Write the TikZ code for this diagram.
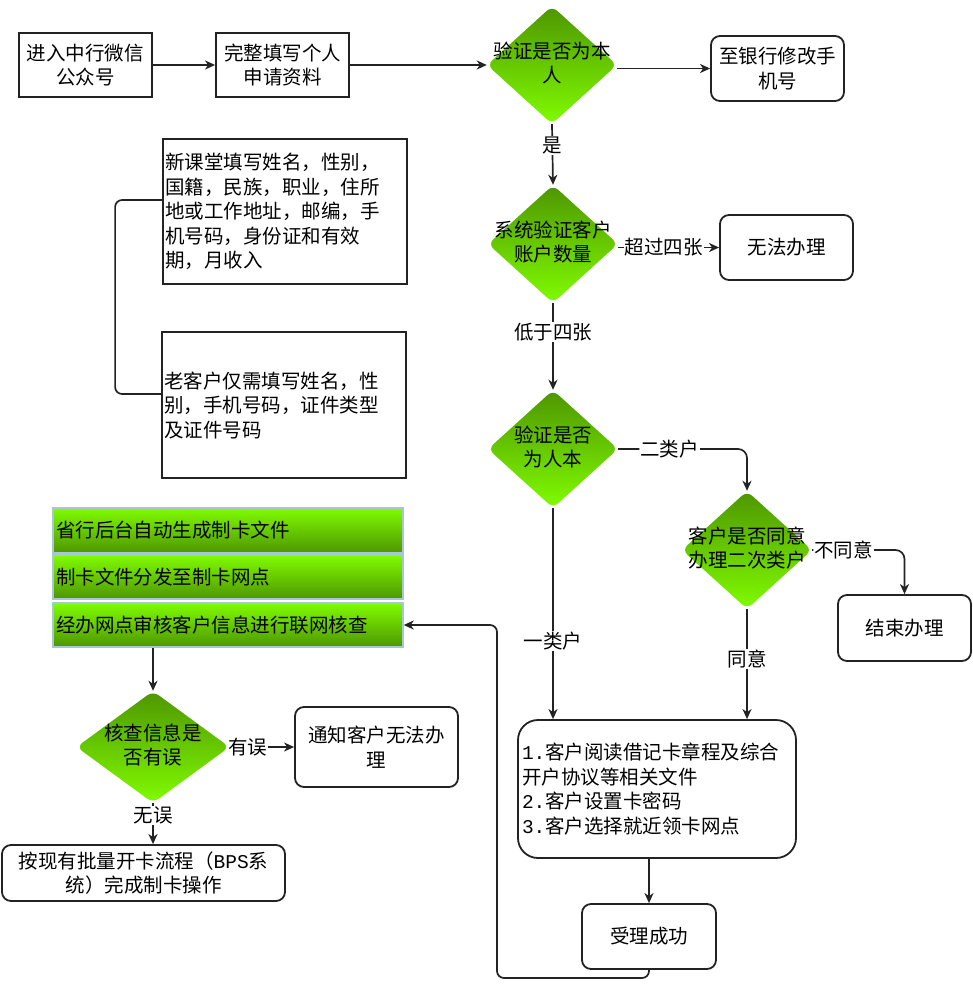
\documentclass[tikz,border=0pt]{standalone}
\usepackage{fontspec}
\setmainfont{Noto Sans CJK SC}
\newfontfamily\monof{Liberation Mono}
\usetikzlibrary{shapes.geometric,arrows.meta}
\definecolor{dg}{RGB}{78,150,0}
\definecolor{lg}{RGB}{128,252,0}
\definecolor{edge}{RGB}{35,35,35}
\definecolor{rowedge}{RGB}{165,200,212}
\begin{document}
\begin{tikzpicture}[x=1pt,y=-1pt,
 every node/.style={font=\fontsize{19.5}{24.5}\selectfont,align=center},
 sq/.style={draw=edge,line width=1.8pt,fill=white,align=center,inner sep=2pt},
 rb/.style={sq,rounded corners=9pt},
 dia/.style={diamond,inner sep=0pt,rounded corners=7pt,top color=dg,bottom color=lg,draw=none},
 row/.style={draw=rowedge,line width=1.4pt,top color=lg,bottom color=dg,minimum width=350pt,text width=344pt,inner xsep=3pt,align=left},
 arr/.style={draw=edge,line width=1.7pt,-{Stealth[length=10pt,width=9pt,inset=3pt]}},
 ln/.style={draw=edge,line width=1.7pt},
 lbl/.style={fill=white,inner sep=1pt}]
\useasboundingbox (0,0) rectangle (972,988);

% top row
\node[sq,minimum width=133pt,minimum height=64pt] (b1) at (85.5,65) {进入中行微信\\公众号};
\node[sq,minimum width=133pt,minimum height=64pt] (b2) at (282.5,65) {完整填写个人\\申请资料};
\node[dia,minimum width=130pt,minimum height=118pt] (d1) at (552,65) {};
\node (t1) at (552,63) {验证是否为本\\人};
\node[rb,minimum width=133pt,minimum height=65pt] (b3) at (777.5,68.5) {至银行修改手\\机号};

% left info boxes
\node[sq,minimum width=244pt,minimum height=145pt,text width=240pt,align=left] (n1) at (285,211.5) {新课堂填写姓名，性别，\\国籍，民族，职业，住所\\地或工作地址，邮编，手\\机号码，身份证和有效\\期，月收入};
\node[sq,minimum width=244pt,minimum height=146pt,text width=240pt,align=left] (n2) at (284,405) {老客户仅需填写姓名，性\\别，手机号码，证件类型\\及证件号码};

% right column
\node[dia,minimum width=130pt,minimum height=118pt] (d2) at (553,244) {};
\node (t2) at (553,242) {系统验证客户\\账户数量};
\node[rb,minimum width=133pt,minimum height=65pt] (b4) at (786.5,247.5) {无法办理};
\node[dia,minimum width=130pt,minimum height=118pt] (d3) at (553,449) {};
\node (t3) at (553,447) {验证是否\\为人本};
\node[dia,minimum width=130pt,minimum height=118pt] (d4) at (747,550) {};
\node (t4) at (747,548) {客户是否同意\\办理二次类户};
\node[rb,minimum width=133pt,minimum height=66pt] (b5) at (904.5,628) {结束办理};
\node[rb,rounded corners=20pt,minimum width=278pt,minimum height=138pt,text width=270pt,inner xsep=4pt,align=left] (big) at (657,789)
 {{\monof 1.}客户阅读借记卡章程及综合\\开户协议等相关文件\\{\monof 2.}客户设置卡密码\\{\monof 3.}客户选择就近领卡网点};
\node[rb,minimum width=134pt,minimum height=65pt] (b6) at (649,936.5) {受理成功};

% green list
\node[row,minimum height=45pt] (r1) at (228,530.5) {省行后台自动生成制卡文件};
\node[row,minimum height=44pt] (r2) at (228,577) {制卡文件分发至制卡网点};
\node[row,minimum height=44pt] (r3) at (228,625) {经办网点审核客户信息进行联网核查};

% bottom left
\node[dia,minimum width=153pt,minimum height=112pt] (d5) at (153,747) {};
\node (t5) at (153,745) {核查信息是\\否有误};
\node[rb,minimum width=163pt,minimum height=80pt] (b7) at (376.5,747) {通知客户无法办\\理};
\node[rb,minimum width=283pt,minimum height=56pt] (b8) at (143.5,873) {按现有批量开卡流程（{\monof BPS}系\\统）完成制卡操作};

% connectors
\draw[arr] (b1.east) -- (b2.west);
\draw[arr] (b2.east) -- (d1.west);
\draw[arr] (b3.west -| d1.east) -- (b3.west);
\draw[arr] (d1.south) -- node[lbl,pos=0.35]{是} (d2.north);
\draw[arr] (b4.west -| d2.east) -- node[lbl,pos=0.45]{超过四张} (b4.west);
\draw[arr] (d2.south) -- node[lbl,pos=0.33]{低于四张} (d3.north);
\draw[arr,rounded corners=9pt] (d3.east) -| node[lbl,pos=0.2]{二类户} (d4.north);
\draw[arr,rounded corners=9pt] (d4.east) -| node[lbl,pos=0.17]{不同意} (b5.north);
\draw[arr] (d4.south) -- node[lbl,pos=0.45]{同意} (d4.south |- big.north);
\draw[arr] (d3.south) -- node[lbl,pos=0.63]{一类户} (d3.south |- big.north);
\draw[arr] (big.south -| b6.north) -- (b6.north);
\coordinate (lp) at (497,978);
\draw[arr,rounded corners=7pt] (b6.south) |- (lp) |- (r3.east);
\draw[arr] (d5.north |- r3.south) -- (d5.north);
\draw[arr] (d5.east) -- node[lbl,pos=0.28]{有误} (b7.west);
\draw[arr] (d5.south) -- node[lbl,pos=0.3]{无误} (d5.south |- b8.north);
\draw[ln,rounded corners=7pt] ([yshift=11.5pt]n1.west) -- ++(-47,0) |- ([yshift=11pt]n2.west);
\end{tikzpicture}
\end{document}
